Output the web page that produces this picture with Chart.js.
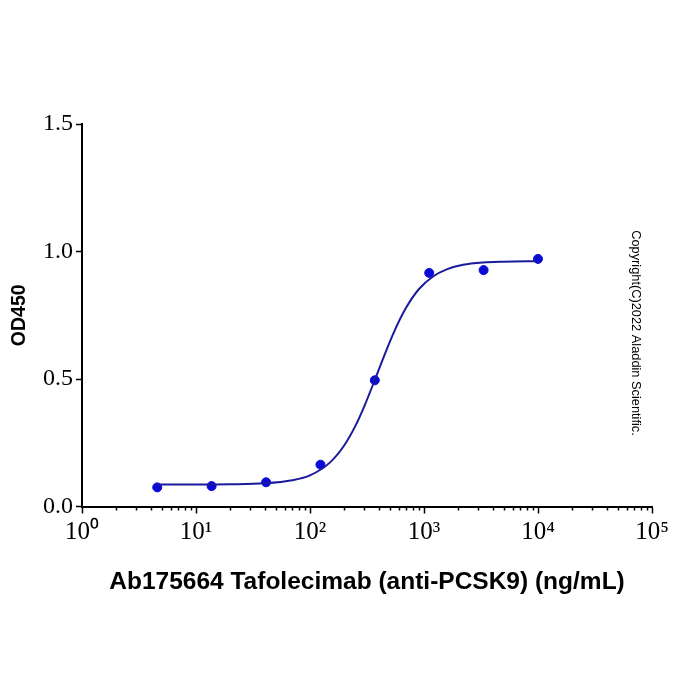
<!DOCTYPE html>
<html>
<head>
<meta charset="utf-8">
<script src="https://cdn.jsdelivr.net/npm/chart.js@4/dist/chart.umd.min.js"></script>
<style>
  html, body { margin: 0; padding: 0; background: #fff; }
  #wrap { width: 700px; height: 700px; }
</style>
</head>
<body>
<div id="wrap"><canvas id="chart" width="700" height="700"></canvas></div>
<script>
'use strict'

// measured points (3-fold dilution series)
const conc = [4.57, 13.7, 41.2, 123.5, 370.4, 1111, 3333, 10000];
const od450 = [0.075, 0.080, 0.095, 0.164, 0.495, 0.916, 0.927, 0.971];

// fitted curve
const fitConc = [4.57, 10, 20, 40, 70, 100, 150, 200, 250, 300, 370, 450, 550, 700, 900, 1200, 1600, 2200, 3300, 5000, 10000];
const fitOd = [0.086, 0.086, 0.087, 0.091, 0.103, 0.122, 0.173, 0.240, 0.316, 0.394, 0.496, 0.594, 0.688, 0.781, 0.852, 0.902, 0.931, 0.948, 0.957, 0.960, 0.962];

const xTicks = [1, 10, 100, 1000, 10000, 100000];
const yTicks = [0, 0.5, 1.0, 1.5];

const SUP = ['\u2070', '\u00B9', '\u00B2', '\u00B3', '\u2074', '\u2075'];

const toXY = (xs, ys) => xs.map((v, i) => ({x: v, y: ys[i]}));

// minor log ticks + copyright note
const extras = {
    id: 'extras',
    afterDraw(chart) {
        const {ctx, scales: {x}} = chart;
        ctx.save();
        ctx.strokeStyle = '#000';
        ctx.lineWidth = 1.5;
        for (let k = 0; k < 5; k++) {
            for (let m = 2; m <= 9; m++) {
                const px = Math.round(x.getPixelForValue(m * Math.pow(10, k))) + 0.5;
                ctx.beginPath();
                ctx.moveTo(px, x.top);
                ctx.lineTo(px, x.top + 4);
                ctx.stroke();
            }
        }
        ctx.translate(636, 333);
        ctx.rotate(Math.PI / 2);
        ctx.fillStyle = '#000';
        ctx.font = '12.8px "Liberation Sans", Arial, sans-serif';
        ctx.textAlign = 'center';
        ctx.textBaseline = 'middle';
        ctx.fillText('Copyright(C)2022 Aladdin Scientific.', 0, 0);
        ctx.restore();
    }
};

new Chart(document.getElementById('chart'), {
    type: 'scatter',
    data: {
        datasets: [{
            data: toXY(fitConc, fitOd),
            showLine: true,
            borderColor: '#1a1a9c',
            borderWidth: 2,
            pointRadius: 0,
            cubicInterpolationMode: 'monotone',
            fill: false
        }, {
            data: toXY(conc, od450),
            pointRadius: 4.5,
            pointBackgroundColor: '#0a0ad8',
            pointBorderColor: '#0a0ad8',
            showLine: false
        }]
    },
    options: {
        responsive: false,
        animation: false,
        events: [],
        layout: {padding: {left: 0, right: 48, top: 124, bottom: 90}},
        plugins: {legend: {display: false}, tooltip: {enabled: false}},
        scales: {
            x: {
                type: 'logarithmic',
                min: 1,
                max: 100000,
                afterBuildTicks: s => { s.ticks = xTicks.map(v => ({value: v})); },
                afterFit: s => { s.height = 103.5; },
                border: {color: '#000', width: 2},
                grid: {drawOnChartArea: false, tickLength: 7, tickColor: '#000', tickWidth: 1.5},
                ticks: {
                    color: '#000',
                    padding: 4,
                    maxRotation: 0,
                    autoSkip: false,
                    font: {family: '"Liberation Serif", "Times New Roman", serif', size: 25},
                    callback: v => '10' + SUP[Math.round(Math.log10(v))]
                },
                title: {
                    display: true,
                    text: 'Ab175664 Tafolecimab (anti-PCSK9) (ng/mL)',
                    color: '#000',
                    padding: {top: 0, bottom: 13.3},
                    font: {family: '"Liberation Sans", Arial, sans-serif', size: 24.5, weight: 'bold'}
                }
            },
            y: {
                min: 0,
                max: 1.5,
                afterBuildTicks: s => { s.ticks = yTicks.map(v => ({value: v})); },
                afterFit: s => { s.width = 82; },
                border: {color: '#000', width: 2},
                grid: {drawOnChartArea: false, tickLength: 6, tickColor: '#000', tickWidth: 1.5},
                ticks: {
                    color: '#000',
                    padding: 3,
                    font: {family: '"Liberation Serif", "Times New Roman", serif', size: 24},
                    callback: v => v.toFixed(1)
                },
                title: {
                    display: true,
                    text: 'OD450',
                    color: '#000',
                    padding: {top: 8, bottom: 0},
                    font: {family: '"Liberation Sans", Arial, sans-serif', size: 19.5, weight: 'bold'}
                }
            }
        }
    },
    plugins: [extras]
});
</script>
</body>
</html>
